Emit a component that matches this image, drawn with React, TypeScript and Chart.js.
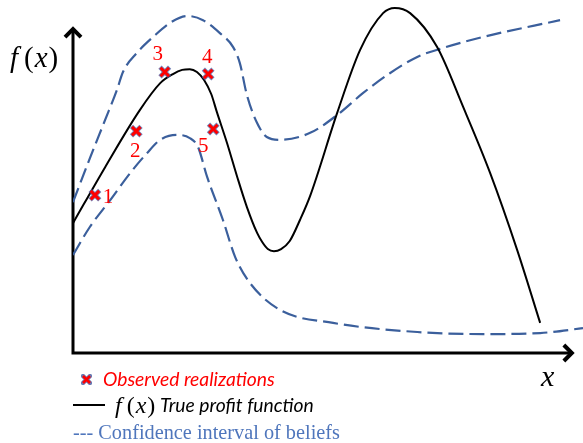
import React, { useEffect, useRef } from 'react';
import { Chart, registerables } from 'chart.js';

Chart.register(...registerables);

// True profit function f(x)
const trueX = [0, 0.63, 1.31, 1.71, 1.96, 2.14, 2.29, 2.43, 2.57, 2.71, 2.82, 3.02, 3.22, 3.41, 3.61, 3.71, 3.82, 3.94, 4.08, 4.25, 4.45, 4.65, 5.18, 5.63, 6.08, 6.31, 6.61, 7.14, 7.65, 8.18, 8.71, 9.16];
const trueY = [3.71, 5.31, 6.94, 7.71, 7.97, 8.09, 8.11, 8.03, 7.8, 7.4, 6.89, 6.0, 5.03, 4.17, 3.43, 3.17, 2.97, 2.91, 2.97, 3.2, 3.8, 4.49, 6.86, 8.66, 9.71, 9.86, 9.71, 8.74, 7.03, 5.14, 2.94, 0.86];

// Upper confidence bound of beliefs
const upperX = [0, 0.33, 0.63, 0.86, 0.98, 1.25, 1.57, 1.9, 2.24, 2.55, 2.88, 3.14, 3.27, 3.41, 3.61, 3.8, 4.06, 4.65, 5.18, 5.69, 6.22, 6.75, 7.2, 8.04, 9.55];
const upperY = [4.31, 5.56, 6.66, 7.51, 8.03, 8.57, 9.03, 9.43, 9.63, 9.51, 9.14, 8.74, 8.29, 7.37, 6.57, 6.17, 6.09, 6.29, 6.8, 7.43, 8.0, 8.46, 8.69, 9.03, 9.51];

// Lower confidence bound of beliefs
const lowerX = [0, 0.33, 0.73, 1.12, 1.45, 1.71, 2.04, 2.29, 2.45, 2.63, 2.94, 3.18, 3.47, 4.06, 5.1, 6.75, 8.04, 9.16, 10.0];
const lowerY = [2.8, 3.6, 4.37, 5.14, 5.71, 6.09, 6.23, 6.14, 5.89, 5.03, 3.8, 2.74, 2.0, 1.23, 0.86, 0.6, 0.54, 0.57, 0.71];

// Observed realizations
const obsX = [0.43, 1.24, 1.8, 2.65, 2.75];
const obsY = [4.51, 6.34, 8.03, 7.97, 6.4];
const obsLabels = ['1', '2', '3', '4', '5'];

// axis extents (data units)
const X_MIN = 0;
const X_MAX = 10;
const Y_MIN = 0;
const Y_MAX = 10;
const Y_ARROW = 9.34;
const X_ARROW = 9.84;

// label offsets (pixels) relative to each marker
const labelOffsets: [number, number][] = [
  [13, 2],
  [-1, 20],
  [-7, -17],
  [-1, -17],
  [-10, 17],
];

const toPts = (xs: number[], ys: number[]) => xs.map((x, i) => ({ x, y: ys[i] }));

const BLUE = '#3B5F9C';
const RED = '#FF0000';

const overlay = {
  id: 'overlay',
  beforeDatasetsDraw(chart: any) {
    const { ctx, scales } = chart;
    const xs = scales.x;
    const ys = scales.y;
    const x0 = xs.getPixelForValue(0);
    const y0 = ys.getPixelForValue(0);
    const yt = ys.getPixelForValue(Y_ARROW);
    const xe = xs.getPixelForValue(X_ARROW);
    ctx.save();
    ctx.strokeStyle = '#000';
    ctx.lineWidth = 3;
    ctx.lineCap = 'butt';
    ctx.beginPath();
    ctx.moveTo(x0, y0 + 1.5);
    ctx.lineTo(x0, yt + 3);
    ctx.moveTo(x0 - 1.5, y0);
    ctx.lineTo(xe - 3, y0);
    ctx.stroke();
    ctx.lineWidth = 4;
    ctx.lineJoin = 'miter';
    ctx.beginPath();
    ctx.moveTo(x0 - 8, yt + 11);
    ctx.lineTo(x0, yt + 3);
    ctx.lineTo(x0 + 8, yt + 11);
    ctx.stroke();
    ctx.beginPath();
    ctx.moveTo(xe - 11, y0 - 8);
    ctx.lineTo(xe - 3, y0);
    ctx.lineTo(xe - 11, y0 + 8);
    ctx.stroke();
    ctx.restore();
  },
  afterDatasetsDraw(chart: any) {
    const { ctx, scales } = chart;
    ctx.save();
    ctx.fillStyle = RED;
    ctx.font = '21px "Liberation Serif"';
    ctx.textAlign = 'center';
    ctx.textBaseline = 'middle';
    obsLabels.forEach((t, i) => {
      const px = scales.x.getPixelForValue(obsX[i]) + labelOffsets[i][0];
      const py = scales.y.getPixelForValue(obsY[i]) + labelOffsets[i][1];
      ctx.fillText(t, px, py);
    });
    ctx.restore();
  },
};

function ChartCanvas() {
  const ref = useRef<HTMLCanvasElement | null>(null);
  useEffect(() => {
    if (!ref.current) return;
    const chart = new Chart(ref.current, {
      type: 'line',
      data: {
        datasets: [
          {
            label: 'Observed realizations',
            data: toPts(obsX, obsY),
            showLine: false,
            pointStyle: 'crossRot',
            pointRadius: 6,
            pointBorderWidth: 3,
            pointBorderColor: RED,
            pointBackgroundColor: RED,
          },
          {
            label: 'outline',
            data: toPts(obsX, obsY),
            showLine: false,
            pointStyle: 'crossRot',
            pointRadius: 6.8,
            pointBorderWidth: 4.6,
            pointBorderColor: 'rgba(70,90,160,0.75)',
            pointBackgroundColor: 'rgba(0,0,0,0)',
          },
          {
            label: 'f(x) True profit function',
            data: toPts(trueX, trueY),
            borderColor: '#000',
            borderWidth: 2,
            pointRadius: 0,
            cubicInterpolationMode: 'monotone',
            fill: false,
          },
          {
            label: 'upper',
            data: toPts(upperX, upperY),
            borderColor: BLUE,
            borderWidth: 2.2,
            borderDash: [15, 6],
            pointRadius: 0,
            cubicInterpolationMode: 'monotone',
            fill: false,
          },
          {
            label: 'lower',
            data: toPts(lowerX, lowerY),
            borderColor: BLUE,
            borderWidth: 2.2,
            borderDash: [15, 6],
            pointRadius: 0,
            cubicInterpolationMode: 'monotone',
            fill: false,
          },
        ],
      },
      options: {
        animation: false,
        responsive: false,
        events: [],
        layout: { autoPadding: false, padding: { left: 73, top: 3, right: 0, bottom: 90 } },
        scales: {
          x: { type: 'linear', min: X_MIN, max: X_MAX, display: false },
          y: { type: 'linear', min: Y_MIN, max: Y_MAX, display: false },
        },
        plugins: {
          legend: { display: false },
          tooltip: { enabled: false },
        },
      } as any,
      plugins: [overlay],
    });
    return () => chart.destroy();
  }, []);
  return <canvas ref={ref} width={583} height={443} style={{ position: 'absolute', left: 0, top: 0, width: 583, height: 443 }} />;
}

const abs = (left: number, top: number, extra: React.CSSProperties = {}): React.CSSProperties => ({
  position: 'absolute',
  left,
  top,
  whiteSpace: 'nowrap',
  ...extra,
});

export default function App() {
  const serif = '"Liberation Serif", "DejaVu Serif", serif';
  const sans = 'Lato, "Open Sans", sans-serif';
  return (
    <div style={{ position: 'absolute', left: 0, top: 0, width: 583, height: 443, background: '#fff', overflow: 'hidden' }}>
      <ChartCanvas />
      {/* axis labels */}
      <div style={abs(10, 40, { fontFamily: serif, fontSize: 29, lineHeight: '34px', color: '#000' })}>
        <i>f</i>
        <span style={{ marginLeft: 6 }}>(</span>
        <i style={{ marginLeft: 1 }}>x</i>
        <span style={{ marginLeft: 1 }}>)</span>
      </div>
      <div style={abs(541, 360, { fontFamily: serif, fontSize: 30, lineHeight: '32px', color: '#000', fontStyle: 'italic' })}>x</div>
      {/* legend */}
      <svg style={abs(81, 374)} width={11} height={11}>
        <path d="M2 2 L9 9 M9 2 L2 9" stroke="rgba(70,90,160,0.8)" strokeWidth={4.4} strokeLinecap="round" />
        <path d="M2 2 L9 9 M9 2 L2 9" stroke={RED} strokeWidth={2.6} strokeLinecap="butt" />
      </svg>
      <div style={abs(103, 368, { fontFamily: sans, fontStyle: 'italic', fontSize: 19.3, lineHeight: '22px', color: RED })}>
        Observed realizations
      </div>
      <div style={abs(73, 404, { width: 32, height: 2, background: '#000' })} />
      <div style={abs(115, 391, { fontFamily: serif, fontSize: 24, lineHeight: '28px', color: '#000' })}>
        <i>f</i>
        <span style={{ marginLeft: 5 }}>(</span>
        <i style={{ marginLeft: 1 }}>x</i>
        <span style={{ marginLeft: 1 }}>)</span>
      </div>
      <div style={abs(160, 394, { fontFamily: sans, fontStyle: 'italic', fontSize: 19.3, lineHeight: '22px', color: '#000' })}>
        True profit function
      </div>
      <div style={abs(73, 420, { fontFamily: serif, fontSize: 20.3, lineHeight: '24px', color: '#4F76BC' })}>
        --- Confidence interval of beliefs
      </div>
    </div>
  );
}
